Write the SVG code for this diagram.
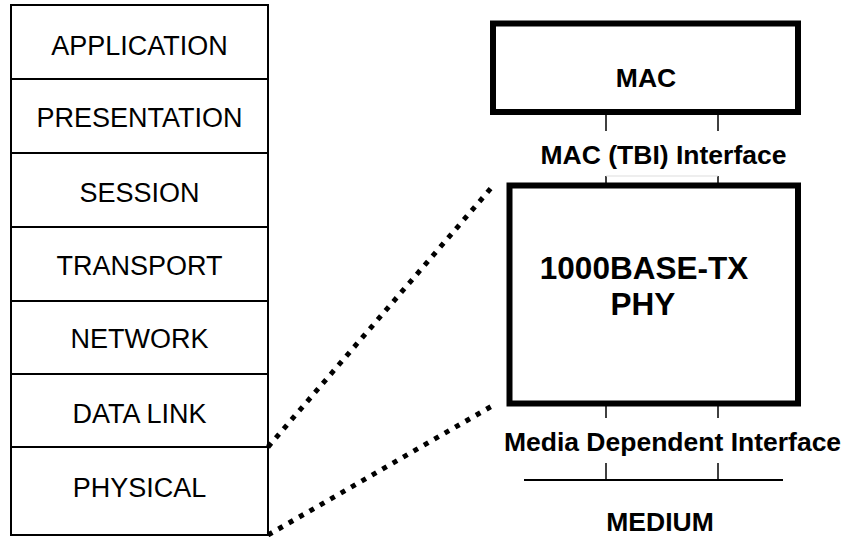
<svg xmlns="http://www.w3.org/2000/svg" width="846" height="537" viewBox="0 0 846 537">
<style>
.reg{font-family:"Liberation Sans",Arial,sans-serif;font-size:27px;fill:#000;text-anchor:middle}
.bold{font-family:"Liberation Sans",Arial,sans-serif;font-size:26.5px;font-weight:bold;fill:#000;text-anchor:middle}
.big{font-size:31.5px}
.cell{fill:#fff;stroke:#000;stroke-width:2}
.thick{fill:#fff;stroke:#000;stroke-width:6}
.tick{stroke:#000;stroke-width:1.5;fill:none}
.dots{stroke:#000;stroke-width:5;stroke-dasharray:5 7;fill:none}
</style>
<rect width="846" height="537" fill="#fff"/>
<g id="osi-stack">
<g id="application"><rect class="cell" x="11" y="5" width="257" height="74"/><text class="reg" x="139.5" y="55">APPLICATION</text></g>
<g id="presentation"><rect class="cell" x="11" y="79" width="257" height="74"/><text class="reg" x="139.5" y="127">PRESENTATION</text></g>
<g id="session"><rect class="cell" x="11" y="153" width="257" height="74"/><text class="reg" x="139.5" y="202">SESSION</text></g>
<g id="transport"><rect class="cell" x="11" y="227" width="257" height="74"/><text class="reg" x="139.5" y="275">TRANSPORT</text></g>
<g id="network"><rect class="cell" x="11" y="301" width="257" height="73"/><text class="reg" x="139.5" y="348">NETWORK</text></g>
<g id="datalink"><rect class="cell" x="11" y="374" width="257" height="73"/><text class="reg" x="139.5" y="423">DATA LINK</text></g>
<g id="physical"><rect class="cell" x="11" y="447" width="257" height="88"/><text class="reg" x="139.5" y="497">PHYSICAL</text></g>
</g>
<g id="connectors">
<line class="dots" x1="268" y1="447" x2="492" y2="187"/>
<line class="dots" x1="268" y1="535" x2="492" y2="406"/>
<line class="tick" x1="606" y1="113" x2="606" y2="131"/>
<line class="tick" x1="718" y1="113" x2="718" y2="131"/>
<line class="tick" x1="606" y1="176" x2="606" y2="185"/>
<line class="tick" x1="718" y1="176" x2="718" y2="185"/>
<line x1="606" y1="176" x2="718" y2="176" stroke="#ddd" stroke-width="1"/>
<line class="tick" x1="606" y1="404" x2="606" y2="418"/>
<line class="tick" x1="718" y1="404" x2="718" y2="418"/>
<line class="tick" x1="606" y1="463" x2="606" y2="480"/>
<line class="tick" x1="718" y1="463" x2="718" y2="480"/>
<line x1="524" y1="480" x2="783" y2="480" stroke="#000" stroke-width="2"/>
</g>
<g id="mac"><rect class="thick" x="493" y="23.5" width="305" height="88.5"/><text class="bold" x="646" y="87">MAC</text></g>
<g id="mac-interface"><text class="bold" x="663.5" y="164">MAC (TBI) Interface</text></g>
<g id="phy"><rect class="thick" x="509.5" y="185.5" width="288.5" height="218"/><text class="bold big" x="644" y="279">1000BASE-TX</text><text class="bold big" x="643" y="315">PHY</text></g>
<g id="mdi"><text class="bold" x="672.5" y="451">Media Dependent Interface</text></g>
<g id="medium"><text class="bold" x="660" y="531">MEDIUM</text></g>
</svg>
